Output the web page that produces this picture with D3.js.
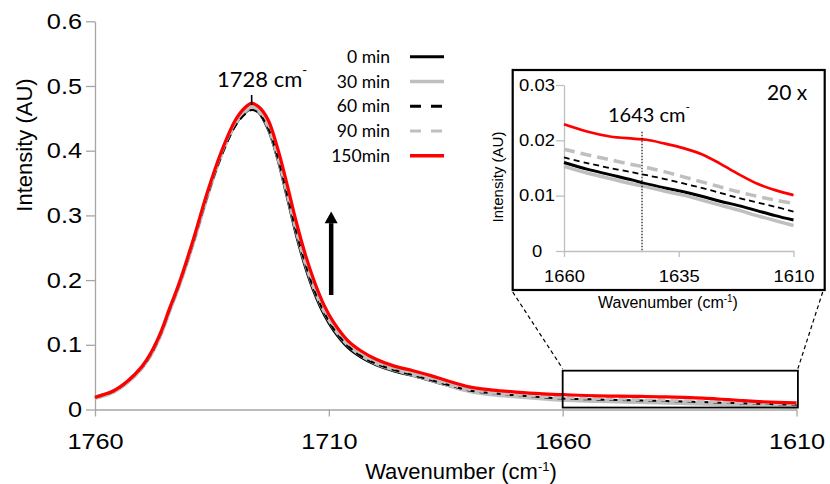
<!DOCTYPE html>
<html>
<head>
<meta charset="utf-8">
<script src="https://cdn.jsdelivr.net/npm/d3@7"></script>
<style>
  body { margin: 0; background: #fff; }
  svg { display: block; }
</style>
</head>
<body>
<svg id="chart" width="830" height="484"></svg>
<script>
// Wavenumber grid (cm-1), shared by every spectrum
const wavenumbers = [1760, 1756, 1753, 1750, 1748, 1746, 1744, 1742, 1739, 1736, 1733, 1730, 1728, 1726.5, 1725, 1723, 1721, 1719, 1717, 1715, 1713, 1711, 1709, 1706, 1703, 1700, 1696, 1692, 1688, 1684, 1680, 1675, 1670, 1665, 1660, 1655, 1650, 1645, 1642, 1638, 1634, 1630, 1626, 1622, 1618, 1614, 1610];

// Intensity (AU) of each spectrum
const min0 = [0.018, 0.028, 0.043, 0.064, 0.086, 0.116, 0.155, 0.193, 0.258, 0.330, 0.393, 0.440, 0.458, 0.465, 0.459, 0.433, 0.388, 0.330, 0.270, 0.219, 0.178, 0.146, 0.122, 0.096, 0.080, 0.069, 0.059, 0.052, 0.044, 0.036, 0.0285, 0.024, 0.021, 0.0185, 0.0160, 0.0148, 0.0138, 0.0128, 0.0121, 0.0114, 0.0107, 0.0099, 0.0090, 0.0082, 0.0073, 0.0064, 0.0056];
const min30 = [0.018, 0.028, 0.043, 0.065, 0.086, 0.116, 0.155, 0.193, 0.259, 0.331, 0.395, 0.443, 0.461, 0.467, 0.462, 0.439, 0.395, 0.339, 0.280, 0.228, 0.186, 0.153, 0.128, 0.101, 0.084, 0.072, 0.062, 0.054, 0.046, 0.037, 0.029, 0.0235, 0.0205, 0.0178, 0.0153, 0.0141, 0.0131, 0.0121, 0.0116, 0.0108, 0.0101, 0.0092, 0.0083, 0.0074, 0.0064, 0.0055, 0.0046];
const min60 = [0.018, 0.028, 0.043, 0.064, 0.085, 0.115, 0.154, 0.192, 0.257, 0.329, 0.391, 0.438, 0.456, 0.463, 0.458, 0.435, 0.391, 0.334, 0.275, 0.224, 0.182, 0.150, 0.125, 0.099, 0.082, 0.071, 0.061, 0.053, 0.045, 0.037, 0.0295, 0.025, 0.022, 0.0193, 0.0169, 0.0159, 0.0150, 0.0142, 0.0137, 0.0130, 0.0122, 0.0114, 0.0105, 0.0096, 0.0088, 0.0080, 0.0071];
const min90 = [0.019, 0.029, 0.044, 0.065, 0.087, 0.117, 0.156, 0.194, 0.260, 0.333, 0.396, 0.444, 0.462, 0.468, 0.463, 0.441, 0.398, 0.342, 0.283, 0.231, 0.189, 0.155, 0.130, 0.103, 0.086, 0.074, 0.064, 0.056, 0.048, 0.039, 0.031, 0.026, 0.0228, 0.0205, 0.0184, 0.0174, 0.0165, 0.0156, 0.0151, 0.0143, 0.0134, 0.0125, 0.0116, 0.0107, 0.0099, 0.0092, 0.0086];
const min150 = [0.019, 0.029, 0.044, 0.066, 0.088, 0.118, 0.157, 0.195, 0.262, 0.335, 0.398, 0.447, 0.466, 0.473, 0.468, 0.448, 0.405, 0.350, 0.291, 0.239, 0.196, 0.161, 0.135, 0.107, 0.090, 0.078, 0.067, 0.060, 0.052, 0.043, 0.035, 0.030, 0.027, 0.0245, 0.0229, 0.0216, 0.0207, 0.0203, 0.0201, 0.0194, 0.0186, 0.0175, 0.0158, 0.0139, 0.0122, 0.0110, 0.0101];

const seriesNames = ["0 min", "30 min", "60 min", "90 min", "150min"];
const seriesValues = [min0, min30, min60, min90, min150];

// Axis ticks
const mainXTicks = [1760, 1710, 1660, 1610];
const mainYTicks = [0, 0.1, 0.2, 0.3, 0.4, 0.5, 0.6];
const insetXTicks = [1660, 1635, 1610];
const insetYTicks = [0, 0.01, 0.02, 0.03];

// Annotation texts
const peakLabel = "1728 cm";
const shoulderLabel = "1643 cm";
const shoulderWavenumber = 1643;
const zoomLabel = "20 x";
const insetRange = [1660, 1610];
const zoomBoxIntensity = [0.003, 0.06];

// Drawing styles per series
const styles = [
  { color: "#000000", main: 2.5, inset: 3,   legend: 3,   dash: null,   insetDash: null,   legendDash: null },
  { color: "#bfbfbf", main: 4.5, inset: 3.5, legend: 3.5, dash: null,   insetDash: null,   legendDash: null },
  { color: "#000000", main: 2,   inset: 1.8, legend: 3,   dash: "8,5",  insetDash: "6,4",  legendDash: "11,10" },
  { color: "#bfbfbf", main: 3,   inset: 3.5, legend: 3,   dash: "8,5",  insetDash: "11,6", legendDash: "11,10" },
  { color: "#ff0000", main: 3.2, inset: 2.7, legend: 3.5, dash: null,   insetDash: null,   legendDash: null }
];

const ARIAL = "'Liberation Sans', Arial, sans-serif";
const CALI = "Lato, 'Open Sans', sans-serif";
const AXIS_GREY = "#a6a6a6";
const STRETCH = 1.15;

const svg = d3.select("#chart");

const spectra = seriesValues.map((vals, i) => ({
  name: seriesNames[i],
  style: styles[i],
  points: wavenumbers.map((w, j) => ({ w, v: vals[j] }))
}));

// ---------- main panel ----------
const x = d3.scaleLinear().domain([1760, 1610]).range([95, 796.5]);
const y = d3.scaleLinear().domain([0, 0.6]).range([409.5, 21.3]);

const gx = svg.append("g").attr("transform", `translate(0,${y(0)})`)
  .call(d3.axisBottom(x).tickValues(mainXTicks).tickSize(7).tickSizeOuter(0).tickPadding(16.4).tickFormat(d3.format("d")));
const gy = svg.append("g").attr("transform", `translate(${x(1760)},0)`)
  .call(d3.axisLeft(y).tickValues(mainYTicks).tickSize(9).tickSizeOuter(0).tickPadding(4)
    .tickFormat(d => d === 0 ? "0" : d.toFixed(1)));

[gx, gy].forEach(g => {
  g.selectAll("path.domain, line").attr("stroke", AXIS_GREY).attr("stroke-width", 1.3);
  g.selectAll("text").attr("fill", "#000").style("font-family", ARIAL).style("font-size", "22px");
});
gx.selectAll("text").attr("transform", `scale(${STRETCH},1)`);
gy.selectAll("text").attr("x", -13 / STRETCH).attr("transform", `scale(${STRETCH},1)`);

const mainLine = d3.line().x(d => x(d.w)).y(d => y(d.v)).curve(d3.curveCatmullRom.alpha(0.5));

svg.append("g").selectAll("path").data(spectra).join("path")
  .attr("d", d => mainLine(d.points))
  .attr("fill", "none")
  .attr("stroke", d => d.style.color)
  .attr("stroke-width", d => d.style.main)
  .attr("stroke-dasharray", d => d.style.dash)
  .attr("stroke-linejoin", "round");

// axis titles
svg.append("text")
  .attr("transform", `translate(31.5,145) rotate(-90)`)
  .attr("text-anchor", "middle")
  .style("font-family", ARIAL).style("font-size", "22px")
  .text("Intensity (AU)");

const xt = svg.append("text")
  .attr("x", 461).attr("y", 479)
  .attr("text-anchor", "middle")
  .style("font-family", ARIAL).style("font-size", "22px");
xt.append("tspan").text("Wavenumber (cm");
xt.append("tspan").attr("dy", -8).style("font-size", "13px").text("-1");
xt.append("tspan").attr("dy", 8).text(")");

// peak marker and label
const red = spectra[4].points;
const peak = red.reduce((a, b) => (b.v > a.v ? b : a));
svg.append("line")
  .attr("x1", x(peak.w)).attr("x2", x(peak.w))
  .attr("y1", y(peak.v) - 8.5).attr("y2", y(peak.v) + 1.5)
  .attr("stroke", "#000").attr("stroke-width", 1.6);
const pl = svg.append("text").attr("x", 217).attr("y", 86.7)
  .style("font-family", CALI).style("font-size", "22px");
pl.append("tspan").text(peakLabel);
pl.append("tspan").attr("dy", -12).style("font-size", "13px").text("-");

// arrow showing the growth over time
const arrowX = x(1709.5);
svg.append("line")
  .attr("x1", arrowX).attr("x2", arrowX)
  .attr("y1", y(0.177)).attr("y2", y(0.288))
  .attr("stroke", "#000").attr("stroke-width", 4.5);
svg.append("path")
  .attr("d", `M${arrowX - 6.5},${y(0.288)} L${arrowX + 6.5},${y(0.288)} L${arrowX},${y(0.306)} Z`)
  .attr("fill", "#000");

// legend
const legend = svg.append("g");
spectra.forEach((s, i) => {
  const ly = 56.7 + i * 24.75;
  legend.append("text")
    .attr("x", 390).attr("y", ly).attr("dy", "0.35em")
    .attr("text-anchor", "end")
    .style("font-family", CALI).style("font-size", "17.5px")
    .text(s.name);
  legend.append("line")
    .attr("x1", 410).attr("x2", 444).attr("y1", ly).attr("y2", ly)
    .attr("stroke", s.style.color)
    .attr("stroke-width", s.style.legend)
    .attr("stroke-dasharray", s.style.legendDash);
});

// zoom region box on the main plot
const zx0 = x(insetRange[0]), zx1 = x(1609.7);
const zy0 = y(zoomBoxIntensity[1]), zy1 = y(zoomBoxIntensity[0]);
svg.append("rect")
  .attr("x", zx0).attr("y", zy0).attr("width", zx1 - zx0).attr("height", zy1 - zy0)
  .attr("fill", "none").attr("stroke", "#000").attr("stroke-width", 1.8);

// ---------- inset panel ----------
const box = { x: 512.7, y: 70, w: 312, h: 220 };

svg.append("line")
  .attr("x1", box.x).attr("y1", box.y + box.h + 2).attr("x2", zx0).attr("y2", zy0 - 2)
  .attr("stroke", "#000").attr("stroke-width", 1.2).attr("stroke-dasharray", "4,3");
svg.append("line")
  .attr("x1", box.x + box.w - 2).attr("y1", box.y + box.h + 2).attr("x2", zx1).attr("y2", zy0 - 2)
  .attr("stroke", "#000").attr("stroke-width", 1.2).attr("stroke-dasharray", "4,3");

svg.append("rect")
  .attr("x", box.x).attr("y", box.y).attr("width", box.w).attr("height", box.h)
  .attr("fill", "#fff").attr("stroke", "#000").attr("stroke-width", 2.2);

const xi = d3.scaleLinear().domain(insetRange).range([564, 793.5]);
const yi = d3.scaleLinear().domain([0, 0.03]).range([251, 85]);

const gxi = svg.append("g").attr("transform", `translate(0,${yi(0)})`)
  .call(d3.axisBottom(xi).tickValues(insetXTicks).tickSize(6).tickSizeOuter(0).tickPadding(13.3).tickFormat(d3.format("d")));
const gyi = svg.append("g").attr("transform", `translate(${xi(1660)},0)`)
  .call(d3.axisLeft(yi).tickValues(insetYTicks).tickSize(8).tickSizeOuter(0).tickPadding(1)
    .tickFormat(d => d === 0 ? "0" : d.toFixed(2)));
[gxi, gyi].forEach(g => {
  g.selectAll("path.domain, line").attr("stroke", "#bfbfbf").attr("stroke-width", 1.3);
  g.selectAll("text").attr("fill", "#000").style("font-family", ARIAL).style("font-size", "16px");
});
gxi.selectAll("text").attr("transform", `scale(${STRETCH},1)`);
gyi.selectAll("text").attr("text-anchor", "middle").attr("x", -27 / STRETCH).attr("transform", `scale(${STRETCH},1)`);

const insetLine = d3.line().x(d => xi(d.w)).y(d => yi(d.v)).curve(d3.curveCatmullRom.alpha(0.5));
svg.append("g").selectAll("path").data(spectra).join("path")
  .attr("d", d => insetLine(d.points.filter(p => p.w <= insetRange[0] && p.w >= insetRange[1])))
  .attr("fill", "none")
  .attr("stroke", d => d.style.color)
  .attr("stroke-width", d => d.style.inset)
  .attr("stroke-dasharray", d => d.style.insetDash);

// dotted marker at the shoulder
svg.append("line")
  .attr("x1", xi(shoulderWavenumber)).attr("x2", xi(shoulderWavenumber))
  .attr("y1", 131.7).attr("y2", yi(0))
  .attr("stroke", "#000").attr("stroke-width", 1.1).attr("stroke-dasharray", "1.5,1.5");

const sl = svg.append("text").attr("x", 608).attr("y", 121.7)
  .style("font-family", CALI).style("font-size", "20px");
sl.append("tspan").text(shoulderLabel);
sl.append("tspan").attr("dy", -11).style("font-size", "12px").text("-");

svg.append("text").attr("x", 767).attr("y", 100)
  .style("font-family", CALI).style("font-size", "21px")
  .text(zoomLabel);

svg.append("text")
  .attr("transform", `translate(503,177) rotate(-90)`)
  .attr("text-anchor", "middle")
  .style("font-family", ARIAL).style("font-size", "15px")
  .text("Intensity (AU)");

const xti = svg.append("text")
  .attr("x", 668).attr("y", 308)
  .attr("text-anchor", "middle")
  .style("font-family", ARIAL).style("font-size", "16px");
xti.append("tspan").text("Wavenumber (cm");
xti.append("tspan").attr("dy", -6).style("font-size", "10px").text("-1");
xti.append("tspan").attr("dy", 6).text(")");
</script>
</body>
</html>
